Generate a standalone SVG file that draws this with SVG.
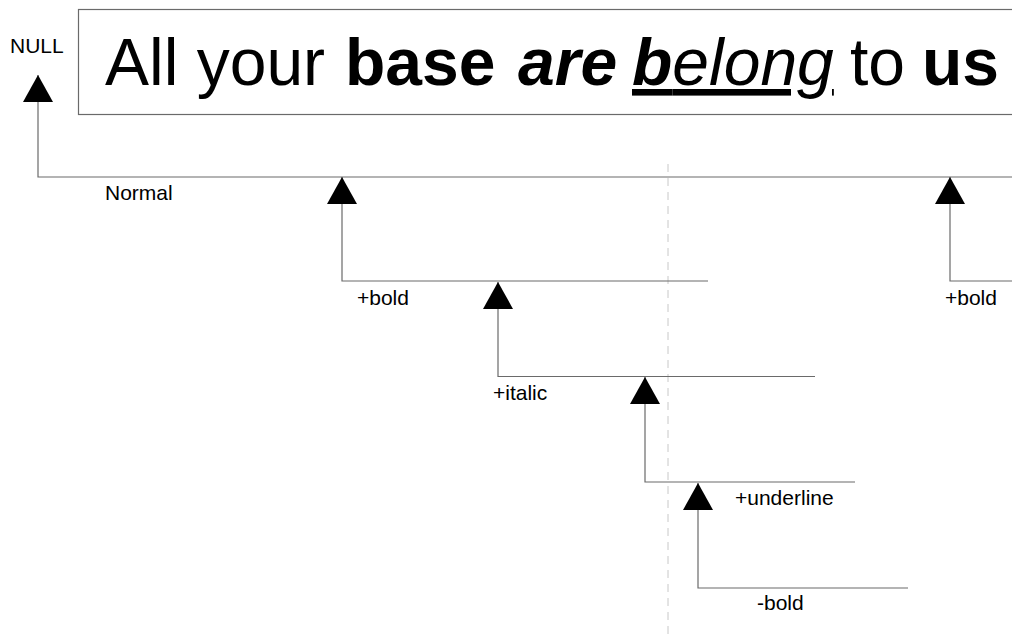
<svg xmlns="http://www.w3.org/2000/svg" width="1012" height="638" viewBox="0 0 1012 638">
<style>
.ln{fill:none;stroke:#6a6a6a;stroke-width:1.2}
.lbl{font-family:"Liberation Sans",Arial,sans-serif;font-size:21px;fill:#000}
.main{font-family:"Liberation Sans",Arial,sans-serif;font-size:66px;fill:#000}
.b{font-weight:bold}
.i{font-style:italic}
.u{text-decoration:underline}
</style>
<defs>
<marker id="arr" viewBox="0 0 27 30" refX="27" refY="15" markerWidth="27" markerHeight="30" markerUnits="userSpaceOnUse" orient="auto">
<path d="M0,0 L27,15 L0,30 Z" fill="#000"/>
</marker>
</defs>
<rect width="1012" height="638" fill="#fff"/>
<line x1="668" y1="164" x2="668" y2="636" stroke="#c8c8c8" stroke-width="1" stroke-dasharray="8,6"/>
<g id="banner">
<rect x="78.5" y="9.5" width="960" height="105" fill="#fff" stroke="#6a6a6a" stroke-width="1.2"/>
<text class="main" x="105" y="85">All your <tspan x="345" class="b">base</tspan><tspan x="518" class="b i">are</tspan><tspan x="632" class="b i u">b</tspan><tspan class="i u">elong</tspan><tspan x="850">to</tspan><tspan x="922" class="b">us</tspan></text>
</g>
<g id="connectors">
<path class="ln" d="M1012,177 H38 V75" marker-end="url(#arr)"/>
<path class="ln" d="M708,281 H342 V177" marker-end="url(#arr)"/>
<path class="ln" d="M815,376.5 H498 V282" marker-end="url(#arr)"/>
<path class="ln" d="M855,482 H645 V377" marker-end="url(#arr)"/>
<path class="ln" d="M908,588 H698 V483" marker-end="url(#arr)"/>
<path class="ln" d="M1012,281 H950 V177" marker-end="url(#arr)"/>
</g>
<g id="null"><text class="lbl" x="10" y="53">NULL</text></g>
<g id="normal"><text class="lbl" x="105" y="200">Normal</text></g>
<g id="bold1"><text class="lbl" x="357" y="305">+bold</text></g>
<g id="italic"><text class="lbl" x="493" y="400">+italic</text></g>
<g id="underline"><text class="lbl" x="735" y="505">+underline</text></g>
<g id="unbold"><text class="lbl" x="757" y="610">-bold</text></g>
<g id="bold2"><text class="lbl" x="945" y="305">+bold</text></g>
</svg>
